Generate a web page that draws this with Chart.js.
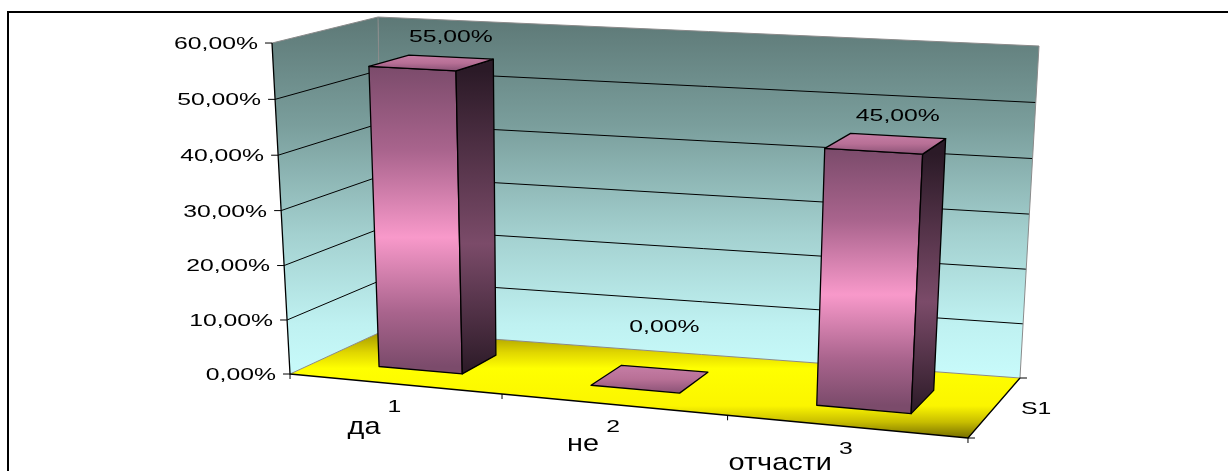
<!DOCTYPE html>
<html>
<head>
<meta charset="utf-8">
<script src="https://cdn.jsdelivr.net/npm/chart.js@4.4.1/dist/chart.umd.min.js"></script>
<style>
  html, body { margin: 0; padding: 0; background: #ffffff; }
  canvas { display: block; }
</style>
</head>
<body>
<canvas id="chart" width="1228" height="471"></canvas>
<script>
// ---- data ----
const categories = ['1', '2', '3'];
const categoryNames = ['да', 'не', 'отчасти'];
const seriesNames = ['S1'];
const values = [0.55, 0.00, 0.45];
const yMin = 0;
const yMax = 0.6;
const yStep = 0.1;

// ---- 3D view setup ----
// Corners of the plot box, as fractions of the chart area (x, y).
// f/b = front/back, b/t = bottom/top, l/r = left/right.
const boxCorners = {
  fbl: [0.0235, 0.848], ftl: [0.0, 0.0618],
  bbl: [0.1447, 0.7458], btl: [0.1382, 0.0],
  fbr: [0.9074, 1.0],   ftr: [0.9322, 0.1473],
  bbr: [0.9752, 0.8575], btr: [1.0, 0.0689]
};
const perspectiveX = 0.91;   // foreshortening along the category axis
const perspectiveY = 0.975;  // foreshortening along the value axis
const barDepth = [0.3, 0.7]; // front / back of the columns within the box depth

const FONT = '"Liberation Sans", Arial, sans-serif';
const NUM_SIZE = 16.5, NUM_STRETCH = 1.5;
const NAME_SIZE = 24, NAME_STRETCH = 1.2;

const pct = v => (v * 100).toFixed(2).replace('.', ',') + '%';

function persp(t, r) { return r * t / (1 + (r - 1) * t); }
function lerp(a, b, t) { return [a[0] + (b[0] - a[0]) * t, a[1] + (b[1] - a[1]) * t]; }

function projector(chart) {
  const a = chart.chartArea;
  const W = a.right - a.left, H = a.bottom - a.top;
  const C = {};
  for (const k in boxCorners) {
    C[k] = [a.left + boxCorners[k][0] * W, a.top + boxCorners[k][1] * H];
  }
  // u: across categories (0 left .. 1 right), v: value height (0..1), w: depth (0 front .. 1 back)
  return function (u, v, w) {
    const uu = persp(u, perspectiveX), vv = persp(v, perspectiveY);
    const fb = lerp(C.fbl, C.fbr, uu), ft = lerp(C.ftl, C.ftr, uu);
    const bb = lerp(C.bbl, C.bbr, uu), bt = lerp(C.btl, C.btr, uu);
    const f = lerp(fb, ft, vv), b = lerp(bb, bt, vv);
    return lerp(f, b, w);
  };
}

function normU(chart, px) { const a = chart.chartArea; return (px - a.left) / (a.right - a.left); }
function normV(chart, py) { const a = chart.chartArea; return (a.bottom - py) / (a.bottom - a.top); }

function tickValues(scale) {
  if (scale.ticks && scale.ticks.length) return scale.ticks.map(t => t.value);
  const out = [];
  for (let v = scale.min; v <= scale.max + 1e-9; v += yStep) out.push(v);
  return out;
}

function pathOf(ctx, pts, close) {
  ctx.beginPath();
  pts.forEach((p, i) => i ? ctx.lineTo(p[0], p[1]) : ctx.moveTo(p[0], p[1]));
  if (close) ctx.closePath();
}

function stretchedText(ctx, text, x, baseline, size, sx, align) {
  ctx.save();
  ctx.font = size + 'px ' + FONT;
  ctx.textAlign = align;
  ctx.textBaseline = 'alphabetic';
  ctx.fillStyle = '#000000';
  ctx.translate(x, baseline);
  ctx.scale(sx, 1);
  ctx.fillText(text, 0, 0);
  ctx.restore();
}

function drawBox(chart) {
  const ctx = chart.ctx, P = projector(chart), ys = chart.scales.y;
  ctx.save();
  ctx.lineJoin = 'round';

  // walls
  const wallTop = Math.min(P(0, 1, 1)[1], P(0, 1, 0)[1]);
  const wallBot = P(1, 0, 1)[1];
  const wg = ctx.createLinearGradient(0, wallTop, 0, wallBot);
  wg.addColorStop(0, '#5d7876');
  wg.addColorStop(0.3, '#7a9e9c');
  wg.addColorStop(0.6, '#a3d0cf');
  wg.addColorStop(0.85, '#bff1f1');
  wg.addColorStop(1, '#c8fbfb');
  ctx.fillStyle = wg;
  pathOf(ctx, [P(0, 0, 1), P(1, 0, 1), P(1, 1, 1), P(0, 1, 1)], true); ctx.fill();
  pathOf(ctx, [P(0, 0, 0), P(0, 0, 1), P(0, 1, 1), P(0, 1, 0)], true); ctx.fill();

  // floor
  const fTop = P(0, 0, 1)[1], fBot = P(1, 0, 0)[1];
  const fg = ctx.createLinearGradient(0, fTop, 0, fBot);
  fg.addColorStop(0, '#9f9300');
  fg.addColorStop(0.2, '#e0d600');
  fg.addColorStop(0.35, '#ffff00');
  fg.addColorStop(0.7, '#fbf500');
  fg.addColorStop(0.85, '#c8be00');
  fg.addColorStop(1, '#756d00');
  ctx.fillStyle = fg;
  pathOf(ctx, [P(0, 0, 0), P(1, 0, 0), P(1, 0, 1), P(0, 0, 1)], true); ctx.fill();

  // gridlines on both walls
  ctx.strokeStyle = '#000000';
  ctx.lineWidth = 1;
  tickValues(ys).forEach(t => {
    if (t <= ys.min + 1e-9 || t >= ys.max - 1e-9) return;
    const v = normV(chart, ys.getPixelForValue(t));
    pathOf(ctx, [P(0, v, 0), P(0, v, 1), P(1, v, 1)], false); ctx.stroke();
  });

  // box edges
  ctx.strokeStyle = '#8a8a8a';
  ctx.lineWidth = 1;
  pathOf(ctx, [P(0, 0, 0), P(0, 0, 1), P(1, 0, 1)], false); ctx.stroke();
  pathOf(ctx, [P(0, 0, 1), P(0, 1, 1)], false); ctx.stroke();
  pathOf(ctx, [P(0, 1, 0), P(0, 1, 1), P(1, 1, 1), P(1, 0, 1)], false); ctx.stroke();

  // axes
  ctx.strokeStyle = '#000000';
  ctx.lineWidth = 1.3;
  pathOf(ctx, [P(0, 1, 0), P(0, 0, 0), P(1, 0, 0), P(1, 0, 1)], false); ctx.stroke();

  // value-axis ticks
  ctx.lineWidth = 1;
  tickValues(ys).forEach(t => {
    const v = normV(chart, ys.getPixelForValue(t));
    const p = P(0, v, 0);
    pathOf(ctx, [[p[0] - 7, p[1]], p], false); ctx.stroke();
  });

  // category boundary ticks
  const xs = chart.scales.x;
  const centers = categories.map((_, i) => xs.getPixelForValue(i));
  const bounds = [chart.chartArea.left];
  for (let i = 0; i < centers.length - 1; i++) bounds.push((centers[i] + centers[i + 1]) / 2);
  bounds.push(chart.chartArea.right);
  bounds.forEach(bx => {
    const p = P(normU(chart, bx), 0, 0);
    pathOf(ctx, [p, [p[0], p[1] + 5]], false); ctx.stroke();
  });

  // series-axis ticks
  [0, 1].forEach(w => {
    const p = P(1, 0, w);
    pathOf(ctx, [p, [p[0] + 7, p[1]]], false); ctx.stroke();
  });
  ctx.restore();
}

function drawBars(chart) {
  const ctx = chart.ctx, P = projector(chart);
  const meta = chart.getDatasetMeta(0);
  const [w0, w1] = barDepth;
  ctx.save();
  ctx.lineJoin = 'round';
  ctx.strokeStyle = '#000000';
  ctx.lineWidth = 1.3;
  meta.data.forEach(el => {
    const pr = el.getProps(['x', 'y', 'base', 'width'], true);
    const u0 = normU(chart, pr.x - pr.width / 2), u1 = normU(chart, pr.x + pr.width / 2);
    const vt = normV(chart, pr.y), vb = normV(chart, pr.base);

    const front = [P(u0, vb, w0), P(u1, vb, w0), P(u1, vt, w0), P(u0, vt, w0)];
    const side = [P(u1, vb, w0), P(u1, vb, w1), P(u1, vt, w1), P(u1, vt, w0)];
    const top = [P(u0, vt, w0), P(u1, vt, w0), P(u1, vt, w1), P(u0, vt, w1)];

    const hFront = front[0][1] - front[3][1];
    if (hFront > 1) {
      const g = ctx.createLinearGradient(0, front[3][1], 0, front[0][1]);
      g.addColorStop(0, '#7b4b6b');
      g.addColorStop(0.28, '#a9648d');
      g.addColorStop(0.57, '#f899ca');
      g.addColorStop(0.82, '#a9648d');
      g.addColorStop(1, '#7b4b6b');
      ctx.fillStyle = g;
      pathOf(ctx, front, true); ctx.fill(); ctx.stroke();

      const gs = ctx.createLinearGradient(0, side[3][1], 0, side[0][1]);
      gs.addColorStop(0, '#2b1a27');
      gs.addColorStop(0.57, '#7b4b69');
      gs.addColorStop(1, '#2b1a27');
      ctx.fillStyle = gs;
      pathOf(ctx, side, true); ctx.fill(); ctx.stroke();
    }

    const tY0 = Math.min(...top.map(p => p[1])), tY1 = Math.max(...top.map(p => p[1]));
    const gt = ctx.createLinearGradient(0, tY0, 0, Math.max(tY1, tY0 + 1));
    gt.addColorStop(0, '#c67ea6');
    gt.addColorStop(0.5, '#b87096');
    gt.addColorStop(1, '#8a5276');
    ctx.fillStyle = gt;
    pathOf(ctx, top, true); ctx.fill(); ctx.stroke();
  });
  ctx.restore();
}

function drawLabels(chart) {
  const ctx = chart.ctx, P = projector(chart);
  const ys = chart.scales.y, xs = chart.scales.x;
  const numBase = 0.358 * NUM_SIZE;

  // value-axis labels
  tickValues(ys).forEach(t => {
    const v = normV(chart, ys.getPixelForValue(t));
    const p = P(0, v, 0);
    stretchedText(ctx, pct(t), p[0] - 14, p[1] + numBase, NUM_SIZE, NUM_STRETCH, 'right');
  });

  // category labels and names
  categories.forEach((c, i) => {
    const u = normU(chart, xs.getPixelForValue(i));
    const p = P(u, 0, 0);
    const cy = p[1] + 22;
    stretchedText(ctx, c, p[0], cy + numBase, NUM_SIZE, NUM_STRETCH, 'center');
    stretchedText(ctx, categoryNames[i], p[0] - 14, cy + numBase + 22 - 3 * i, NAME_SIZE, NAME_STRETCH, 'right');
  });

  // series label
  const s = P(1, 0, 0.5);
  stretchedText(ctx, seriesNames[0], s[0] + 27, s[1] + numBase, NUM_SIZE, NUM_STRETCH, 'left');

  // value labels above the columns
  const meta = chart.getDatasetMeta(0);
  meta.data.forEach((el, i) => {
    const pr = el.getProps(['x', 'y'], true);
    const u = normU(chart, pr.x), v = normV(chart, pr.y);
    const a = P(u, v, barDepth[1]);
    const floorBack = P(u, 0, 1);
    const cy = Math.min(a[1] - 21, floorBack[1] - 27);
    stretchedText(ctx, pct(values[i]), a[0], cy + numBase, NUM_SIZE, NUM_STRETCH, 'center');
  });
}

const view3d = {
  id: 'view3d',
  beforeDatasetsDraw(chart) { drawBox(chart); },
  afterDatasetsDraw(chart) { drawBars(chart); drawLabels(chart); },
  afterDraw(chart) {
    const ctx = chart.ctx;
    ctx.save();
    ctx.strokeStyle = '#000000';
    ctx.lineWidth = 2;
    ctx.strokeRect(8, 12, chart.width + 20, chart.height + 20);
    ctx.restore();
  }
};

new Chart(document.getElementById('chart'), {
  type: 'bar',
  data: {
    labels: categories,
    datasets: [{
      label: seriesNames[0],
      data: values,
      backgroundColor: 'rgba(0,0,0,0)',
      borderWidth: 0,
      barPercentage: 1,
      categoryPercentage: 0.4
    }]
  },
  options: {
    responsive: false,
    animation: false,
    devicePixelRatio: 1,
    events: [],
    layout: { padding: { left: 272, top: 17, right: 189, bottom: 33 } },
    scales: {
      x: { display: false, offset: true },
      y: { display: false, min: yMin, max: yMax, ticks: { stepSize: yStep } }
    },
    plugins: { legend: { display: false }, tooltip: { enabled: false } }
  },
  plugins: [view3d]
});
</script>
</body>
</html>
